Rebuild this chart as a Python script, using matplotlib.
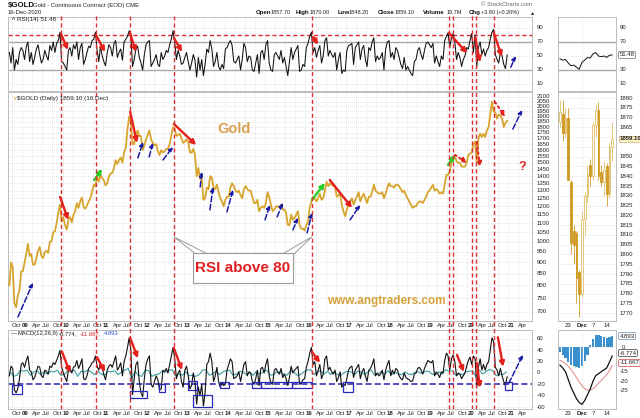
import numpy as np
import matplotlib
matplotlib.use("Agg")
import matplotlib.pyplot as plt
from matplotlib.patches import Rectangle, Polygon
from matplotlib.ticker import NullLocator

plt.rcParams['font.family'] = ['Liberation Sans', 'DejaVu Sans']

# ---------------- data (semi-monthly readings) ----------------
p2008 = [800, 900, 880, 730, 715, 760, 780, 860]          # from Sep 2008
p2009 = [860, 900, 940, 990, 930, 940, 890, 890, 920, 955, 975, 930, 920, 950, 955, 945, 1000, 1005, 1050, 1055, 1100, 1160, 1210, 1110]
p2010 = [1135, 1090, 1065, 1120, 1135, 1105, 1150, 1170, 1220, 1190, 1230, 1255, 1195, 1185, 1205, 1230, 1250, 1290, 1340, 1330, 1400, 1360, 1410, 1385]
p2011 = [1370, 1335, 1350, 1400, 1420, 1425, 1460, 1520, 1490, 1520, 1540, 1500, 1580, 1620, 1780, 1900, 1850, 1650, 1650, 1720, 1770, 1720, 1720, 1600]
p2012 = [1640, 1690, 1730, 1770, 1690, 1660, 1640, 1650, 1590, 1560, 1600, 1580, 1590, 1610, 1610, 1650, 1730, 1800, 1780, 1720, 1730, 1740, 1700, 1660]
p2013 = [1670, 1690, 1670, 1580, 1580, 1610, 1560, 1400, 1460, 1380, 1390, 1240, 1250, 1320, 1310, 1400, 1390, 1320, 1310, 1340, 1290, 1250, 1230, 1200]
p2014 = [1240, 1260, 1260, 1320, 1350, 1330, 1300, 1290, 1300, 1270, 1250, 1310, 1330, 1310, 1300, 1300, 1260, 1220, 1220, 1240, 1170, 1190, 1200, 1190]
p2015 = [1220, 1290, 1260, 1210, 1170, 1180, 1200, 1200, 1190, 1210, 1180, 1180, 1160, 1090, 1090, 1150, 1120, 1130, 1150, 1170, 1090, 1070, 1070, 1060]
p2016 = [1090, 1110, 1190, 1230, 1260, 1250, 1230, 1250, 1280, 1240, 1250, 1300, 1360, 1330, 1350, 1340, 1330, 1330, 1260, 1270, 1280, 1210, 1170, 1140]
p2017 = [1180, 1210, 1230, 1250, 1210, 1240, 1260, 1290, 1230, 1260, 1280, 1250, 1220, 1260, 1260, 1290, 1340, 1300, 1290, 1280, 1280, 1290, 1250, 1280]
p2018 = [1320, 1350, 1330, 1330, 1320, 1340, 1340, 1330, 1310, 1290, 1300, 1270, 1250, 1230, 1210, 1190, 1200, 1200, 1220, 1230, 1230, 1220, 1240, 1260]
p2019 = [1290, 1300, 1320, 1340, 1300, 1310, 1300, 1280, 1290, 1280, 1340, 1410, 1410, 1430, 1510, 1530, 1550, 1510, 1500, 1500, 1470, 1470, 1470, 1500]
p2020 = [1560, 1570, 1580, 1650, 1670, 1500, 1700, 1740, 1710, 1740, 1710, 1770, 1800, 1920, 2050, 1950, 1940, 1880, 1920, 1910, 1880, 1800, 1840, 1859.1]

r2008 = [55, 40, 62, 30, 45, 38, 55, 62]
r2009 = [58, 45, 63, 70, 42, 55, 38, 48, 60, 66, 52, 40, 45, 58, 50, 44, 65, 58, 70, 55, 68, 72, 84, 42]
r2010 = [40, 35, 30, 58, 62, 50, 66, 60, 70, 45, 62, 68, 38, 45, 55, 64, 62, 72, 74, 84, 58, 42, 64, 50]
r2011 = [42, 36, 55, 66, 62, 50, 68, 72, 48, 55, 60, 44, 70, 74, 78, 86, 80, 35, 45, 60, 64, 48, 40, 30]
r2012 = [52, 66, 70, 72, 35, 40, 45, 52, 38, 35, 55, 45, 50, 58, 55, 66, 74, 86, 70, 45, 58, 50, 38, 40]
r2013 = [48, 55, 42, 30, 40, 52, 44, 20, 48, 30, 45, 22, 38, 60, 55, 72, 60, 35, 42, 55, 35, 30, 38, 32]
r2014 = [60, 62, 68, 72, 65, 42, 40, 45, 50, 30, 45, 68, 62, 42, 50, 48, 30, 28, 40, 52, 25, 55, 58, 45]
r2015 = [66, 72, 40, 30, 28, 52, 55, 50, 45, 58, 40, 48, 35, 22, 42, 62, 45, 55, 60, 65, 28, 30, 38, 35]
r2016 = [62, 68, 78, 84, 55, 62, 48, 58, 65, 40, 50, 72, 76, 50, 58, 52, 48, 55, 30, 45, 55, 25, 30, 28]
r2017 = [58, 65, 66, 68, 38, 62, 66, 70, 45, 60, 65, 45, 35, 62, 58, 70, 76, 42, 50, 45, 48, 55, 30, 60]
r2018 = [70, 72, 48, 55, 45, 62, 58, 48, 38, 32, 48, 30, 35, 30, 25, 22, 42, 45, 58, 62, 52, 45, 58, 68]
r2019 = [70, 66, 62, 68, 40, 50, 42, 35, 50, 45, 72, 78, 83, 62, 76, 82, 70, 45, 55, 48, 35, 45, 50, 62]
r2020 = [60, 72, 82, 55, 80, 35, 62, 70, 52, 60, 50, 58, 62, 74, 84, 88, 52, 45, 40, 55, 50, 38, 32, 51.48]

m2008 = [-5, 12, 8, -30, -35, -28, -10, 15]
m2009 = [18, 10, 22, 30, 5, 2, -12, -8, 2, 12, 10, -5, -8, 5, 3, -2, 12, 10, 18, 15, 22, 30, 40, 10]
m2010 = [0, -8, -15, 5, 8, 0, 10, 12, 22, 8, 15, 25, -10, -12, -5, 8, 12, 18, 20, 30, 12, 5, 18, 10]
m2011 = [-3, -12, 5, 12, 15, 10, 20, 30, 5, 10, 18, -5, 20, 30, 45, 62, 40, -38, -10, 15, 20, -15, -35, -42]
m2012 = [-10, 15, 25, 30, -20, -25, -15, -5, -12, -30, -28, 5, 2, 8, 0, 15, 30, 45, 25, -10, 0, 5, -15, -25]
m2013 = [5, 12, -5, -28, -22, 0, -15, -55, -25, -40, -20, -58, -35, 15, 20, 35, 20, -15, -5, 10, -15, -25, -18, -22]
m2014 = [-20, 5, 15, 25, 20, -10, -8, -5, 2, -15, 0, 15, 20, -5, 2, 0, -15, -20, -10, 5, -22, 8, 10, 0]
m2015 = [15, 25, -5, -18, -20, 5, 8, 2, -2, 8, -8, -2, -10, -22, -8, 12, 0, 5, 8, 12, -20, -18, -12, -10]
m2016 = [10, 20, 35, 45, 15, 20, -5, 5, 15, -10, -2, 25, 30, 5, 10, 2, -2, 5, -15, -8, 2, -25, -20, -22]
m2017 = [-10, 5, 10, 12, -8, 5, 10, 15, -10, 2, 8, -5, -15, 5, 8, 15, 25, -5, 0, -5, -2, 5, -12, 5]
m2018 = [15, 22, -5, 5, -2, 8, 5, -5, -10, -12, 0, -8, -10, -12, -15, -14, -2, 0, 8, 10, 5, -2, 8, 15]
m2019 = [22, 20, 18, 22, -5, 2, -2, -8, 2, 0, 22, 35, 30, 5, 25, 32, 20, -5, 0, -2, -10, -5, 0, 12]
m2020 = [22, 28, 15, 30, 25, -25, 10, 25, 5, 15, 5, 15, 20, 40, 62, 55, 10, 5, -5, 8, -5, -15, -22, -6.774]

# MACD histogram (monthly readings)
h2008 = [2, -6, -4, 5]
h2009 = [3, 5, -4, 2, 4, -3, 2, -2, 3, 2, 5, -4]
h2010 = [-3, 4, 2, 5, -6, 3, 2, 5, 2, -3, 3, -2]
h2011 = [-4, 3, 2, 4, -3, 2, 5, 8, -10, 3, -4, -6]
h2012 = [5, 4, -6, -3, -2, 3, 2, 4, 6, -5, -2, -4]
h2013 = [2, -5, -4, -6, -3, 5, 6, -4, -2, 3, -3, 2]
h2014 = [4, 5, -4, -2, 3, 2, -3, 1, -4, 3, -2, 2]
h2015 = [5, -4, -3, 2, 1, -2, -4, 4, 2, -4, -3, 2]
h2016 = [5, 6, -3, 2, 4, -2, 3, -3, 2, -3, -4, 1]
h2017 = [3, 2, -3, 3, 2, -3, 2, 5, -4, -1, 2, -2]
h2018 = [4, -3, 2, -2, -3, 2, -2, -3, 2, 2, -1, 3]
h2019 = [3, -2, -3, 2, -2, 6, 3, 4, -4, -2, -3, 2]
h2020 = [3, 4, -6, 5, -2, 3, 6, 4, -5, -2, -3, 2]

# dates where RSI crossed above 80
rsi80_dates = [2009.96, 2010.83, 2011.67, 2012.75, 2016.16, 2019.54, 2019.64, 2020.11, 2020.21, 2020.65]

# last month daily data (Nov 18 .. Dec 16, 2020)
day_labels = ["23", "Dec", "7", "14"]
day_label_idx = [3, 8, 12, 17]
c_open = [1868, 1872, 1862, 1870, 1837, 1812, 1811, 1791, 1780, 1818, 1830, 1846, 1840, 1866, 1874, 1842, 1837, 1845, 1831, 1855]
c_high = [1879, 1879, 1875, 1875, 1838, 1815, 1812, 1792, 1822, 1832, 1845, 1849, 1868, 1877, 1878, 1846, 1848, 1847, 1857, 1868]
c_low = [1865, 1858, 1860, 1838, 1800, 1795, 1775, 1768, 1778, 1810, 1827, 1835, 1838, 1860, 1838, 1835, 1830, 1825, 1829, 1848]
c_close = [1873, 1862, 1870, 1838, 1806, 1805, 1788, 1780, 1818, 1830, 1841, 1840, 1866, 1874, 1840, 1837, 1843, 1831, 1855, 1859.1]
d_rsi = [46, 44, 45, 40, 36, 37, 34, 31, 41, 44, 48, 47, 53, 55, 50, 49, 50, 48, 51, 51.48]
d_macd = [-11.5, -13, -15, -19, -23, -26, -29, -31, -32, -30, -27, -24, -20, -17, -16, -15, -14, -13, -10, -6.774]
d_signal = [-9, -9.8, -10.8, -12, -13.8, -15.8, -18, -20.2, -22.3, -23.8, -24.5, -24.5, -23.8, -22.5, -21, -19.5, -18, -16.5, -14.5, -11.667]
d_hist = [-2, -3.5, -5, -6.5, -8, -8.5, -9, -9.3, -8.5, -6, -3.5, 1, 3.5, 5.5, 5.5, 5, 4.5, 4, 4.5, 4.893]

header_labels = ["Open", "High", "Low", "Close", "Volume", "Chg"]
header_values = ["1857.70", "1870.00", "1848.20", "1859.10", "19.7M", "+3.80 (+0.20%)"]

# annotations (time, value)
rsi_red_arrows = [(2009.963, 81.4, 2010.136, 58.6), (2010.827, 80, 2011.049, 55.7), (2011.667, 82.9, 2011.815, 55.7),
                  (2012.753, 75.7, 2012.951, 55.7), (2016.19, 77, 2016.31, 66), (2019.54, 83, 2019.99, 54),
                  (2020.19, 76, 2020.31, 41), (2020.65, 83, 2020.85, 49)]
rsi_blue_arrows = [(2021.07, 34, 2021.19, 50)]
px_red_arrows = [(2009.94, 1259, 2010.14, 1119), (2011.67, 1946, 2011.84, 1660), (2012.75, 1829, 2013.30, 1642),
                 (2016.60, 1373, 2017.15, 1190)]
px_red_dotted = [(2019.69, 1561, 2019.99, 1498), (2020.23, 1668, 2020.31, 1468), (2020.68, 2046, 2020.93, 1896)]
px_green_arrows = [(2010.78, 1373, 2010.98, 1453), (2016.16, 1240, 2016.48, 1352), (2019.52, 1483, 2019.69, 1561)]
px_blue_arrows = [(2008.90, 681, 2009.27, 811), (2011.86, 1537, 2011.99, 1668), (2012.14, 1545, 2012.23, 1660),
                  (2012.48, 1521, 2012.73, 1626), (2013.40, 1325, 2013.44, 1431), (2013.64, 1178, 2013.72, 1325),
                  (2014.06, 1166, 2014.21, 1305), (2015.00, 1119, 2015.12, 1208), (2015.30, 1137, 2015.44, 1221),
                  (2015.69, 1063, 2015.81, 1131), (2016.04, 1047, 2016.16, 1160), (2017.10, 1119, 2017.35, 1208),
                  (2021.12, 1782, 2021.35, 1964)]
macd_red_arrows = [(2009.99, 37, 2010.19, 0), (2010.85, 28, 2011.05, 2), (2011.67, 62, 2011.86, 26),
                   (2012.75, 44, 2012.95, 5), (2016.16, 37, 2016.36, 18), (2019.74, 32, 2019.91, 2),
                   (2020.23, 18, 2020.31, -26), (2020.75, 63, 2020.88, 11)]
macd_blue_arrows = [(2021.02, -18, 2021.37, 32)]
macd_boxes = [(2008.75, 2009.0, -37, -21), (2011.67, 2012.09, -44, -32), (2012.38, 2012.53, -33, -19),
              (2013.10, 2013.32, -30, -14), (2013.22, 2013.69, -60, -39), (2013.89, 2014.11, -26, -16),
              (2014.68, 2014.90, -26, -16), (2014.90, 2015.67, -26, -16), (2015.67, 2016.16, -26, -16),
              (2016.93, 2017.17, -33, -16), (2020.93, 2021.10, -30, -16)]


# ---------------- build series ----------------
def stack(parts, per_year):
    t, v = [], []
    for year, vals, start in parts:
        t += [year + (start + i + 0.5) / per_year for i in range(len(vals))]
        v += list(vals)
    return np.array(t), np.array(v, float)

yrs = list(range(2009, 2021))
t_p, price = stack([(2008, p2008, 16)] + list(zip(yrs, [p2009, p2010, p2011, p2012, p2013, p2014, p2015, p2016, p2017, p2018, p2019, p2020], [0] * 12)), 24)
t_r, rsi = stack([(2008, r2008, 16)] + list(zip(yrs, [r2009, r2010, r2011, r2012, r2013, r2014, r2015, r2016, r2017, r2018, r2019, r2020], [0] * 12)), 24)
t_m, macd = stack([(2008, m2008, 16)] + list(zip(yrs, [m2009, m2010, m2011, m2012, m2013, m2014, m2015, m2016, m2017, m2018, m2019, m2020], [0] * 12)), 24)
t_h, hist = stack([(2008, h2008, 8)] + list(zip(yrs, [h2009, h2010, h2011, h2012, h2013, h2014, h2015, h2016, h2017, h2018, h2019, h2020], [0] * 12)), 12)

# ---------------- figure ----------------
W, H = 640, 418
fig = plt.figure(figsize=(W / 100, H / 100), dpi=100)
fig.patch.set_facecolor('white')

def clear_ticks(a):
    for axis in (a.xaxis, a.yaxis):
        axis.set_major_locator(NullLocator())
        axis.set_minor_locator(NullLocator())

def ax_at(x0, y0, x1, y1, frame=True):
    a = fig.add_axes([x0 / W, 1 - y1 / H, (x1 - x0) / W, (y1 - y0) / H])
    for s in a.spines.values():
        s.set_color('#bcbcbc')
        s.set_linewidth(0.7)
        s.set_visible(frame)
    clear_ticks(a)
    return a

def ftext(x, y, s, **kw):
    kw.setdefault('va', 'center')
    kw.setdefault('ha', 'left')
    return fig.text(x / W, 1 - y / H, s, **kw)

def rlabel(a, v, s, dx=3.5, size=4.3, **kw):
    a.annotate(s, xy=(1, v), xycoords=('axes fraction', 'data'), xytext=(dx, 0),
               textcoords='offset points', ha='left', va='center', fontsize=size,
               color='#222222', annotation_clip=False, **kw)

def arrow(a, spec, color, ls='-', lw=1.7, ms=7):
    t0, v0, t1, v1 = spec
    a.annotate('', xy=(t1, v1), xytext=(t0, v0),
               arrowprops=dict(arrowstyle='-|>', color=color, lw=lw, linestyle=ls,
                               mutation_scale=ms, shrinkA=0, shrinkB=0), zorder=6)

XL = (2008.654, 2021.593)
quarters = np.round(np.arange(2008.75, 2021.26, 0.25), 2)
GRID = dict(color='#d6d6d6', lw=0.55, ls=(0, (1, 1.6)), zorder=0)
RED = '#e3201b'
BLUE = '#1c1ca6'
GREEN = '#2ccc2c'

ax_r = ax_at(8, 17, 532, 91)
ax_p = ax_at(8, 92, 532, 321)
ax_p.set_yscale('log')
clear_ticks(ax_p)
ax_m = ax_at(8, 330, 532, 409)
for a in (ax_r, ax_p, ax_m):
    a.set_xlim(XL)
    for q in quarters:
        a.axvline(q, **GRID)

# ---- RSI panel ----
ax_r.set_ylim(0, 105.7)
for v in (10, 50, 90):
    ax_r.axhline(v, **GRID)
for v in (30, 70):
    ax_r.axhline(v, color='#a9a9a9', lw=1.0, zorder=1)
ax_r.axhline(80, color='#dd2a2a', lw=1.0, ls=(0, (3, 2)), zorder=2)
ax_r.plot(t_r, rsi, color='#111111', lw=0.75, zorder=3)
for s in rsi_red_arrows:
    arrow(ax_r, s, RED)
for s in rsi_blue_arrows:
    arrow(ax_r, s, BLUE, ls='--', lw=1.1, ms=6)
for v in (90, 70, 50, 30, 10):
    rlabel(ax_r, v, str(v))
ftext(12, 19, "\u1d27", fontsize=4.5, color='#333333')
ftext(17, 19, "RSI(14) 51.48", fontsize=4.5, color='#222222')

# ---- price panel ----
ax_p.set_ylim(667, 2154)
levels = list(range(700, 2101, 50))
for v in levels:
    ax_p.axhline(v, **GRID)
    rlabel(ax_p, v, str(v))
ax_p.plot(t_p, price, color='#d7a52e', lw=1.3, zorder=3)
for s in px_red_arrows:
    arrow(ax_p, s, RED)
for s in px_red_dotted:
    arrow(ax_p, s, RED, ls=':', lw=1.4)
for s in px_green_arrows:
    arrow(ax_p, s, GREEN)
for s in px_blue_arrows:
    arrow(ax_p, s, BLUE, ls='--', lw=1.1, ms=6)
ax_p.text(2013.815, 1783, "Gold", fontsize=10.5, weight='bold', color='#d9a052', ha='left', va='center', zorder=7)
ax_p.text(2016.531, 740, "www.angtraders.com", fontsize=8.5, weight='bold', color='#d6a23a', ha='left', va='center', zorder=7)
ax_p.text(2021.346, 1468, "?", fontsize=9, weight='bold', color='#dd2222', ha='center', va='center', zorder=7)
# callout "RSI above 80"
for tip, b1, b2 in [((2012.75, 1026), (2013.32, 935.7), (2013.62, 935.7)),
                    ((2016.16, 1026), (2015.69, 935.7), (2015.39, 935.7))]:
    ax_p.add_patch(Polygon([tip, b1, b2], closed=True, fc='white', ec='#9a9a9a', lw=0.7, zorder=7))
ax_p.add_patch(Rectangle((2013.222, 810.7), 2015.691 - 2013.222, 945.3 - 810.7, fc='white', ec='#9a9a9a', lw=0.8, zorder=8))
ax_p.text(2014.457, 875.6, "RSI above 80", fontsize=11, weight='bold', color='#e02020', ha='center', va='center', zorder=9)
ftext(12, 98.5, "\u2228", fontsize=4.5, color='#d4a030')
ftext(17, 98.5, "$GOLD (Daily) 1859.10 (16 Dec)", fontsize=4.5, color='#222222')

# ---- MACD panel ----
ax_m.set_ylim(-63.5, 75.8)
for v in (60, 40, 20, 0, -40, -60):
    ax_m.axhline(v, **GRID)
ax_m.axhline(-20, color='#2323a8', lw=1.1, ls=(0, (4, 2)), zorder=2)
ax_m.plot(t_h, hist, color='#3f9fa6', lw=0.8, zorder=3)
ax_m.plot(t_m, macd, color='#111111', lw=0.8, zorder=4)
for s in macd_red_arrows:
    arrow(ax_m, s, RED)
for s in macd_blue_arrows:
    arrow(ax_m, s, BLUE, ls='--', lw=1.1, ms=6)
for t0, t1, v0, v1 in macd_boxes:
    ax_m.add_patch(Rectangle((t0, v0), t1 - t0, v1 - v0, fill=False, ec='#2a2ab8', lw=0.9, zorder=5))
for v in (60, 40, 20, 0, -20, -40, -60):
    rlabel(ax_m, v, str(v))
ftext(11, 333.5, "\u2014", fontsize=4.3, color='#111111')
ftext(17, 333.5, "MACD(12,26,9)", fontsize=4.2, color='#222222')
ftext(59, 333.5, "-6.774,", fontsize=4.2, color='#222222')
ftext(80, 333.5, "-11.667,", fontsize=4.2, color='#d02020')
ftext(104, 333.5, "4.893", fontsize=4.2, color='#2a4fd0')

# ---- x labels for main panels ----
def xlabels(a):
    for q in quarters:
        yr = int(np.floor(q + 1e-6))
        m = int(round((q - yr) * 4))
        s = f"{yr % 100:02d}" if m == 0 else ["", "Apr", "Jul", "Oct"][m]
        a.annotate(s, xy=(q, 0), xycoords=('data', 'axes fraction'), xytext=(0.0, -1.3),
                   textcoords='offset points', ha='left', va='top', fontsize=4.3,
                   weight='bold' if m == 0 else 'normal', color='#222222', annotation_clip=False)
xlabels(ax_p)
xlabels(ax_m)

# ---- overlay with RSI>80 event lines ----
ax_ov = ax_at(8, 15, 532, 409, frame=False)
ax_ov.patch.set_alpha(0)
ax_ov.set_xlim(XL)
ax_ov.set_ylim(0, 1)
for d in rsi80_dates:
    ax_ov.axvline(d, color='#dd3030', lw=1.0, ls=(0, (3, 2)))

# ---------------- right-hand daily panels ----------------
DXL = (-0.73, 20.4)
days = np.arange(len(c_close))
mr = ax_at(558, 17, 616, 91)
mp = ax_at(558, 92, 616, 321)
mm = ax_at(558, 330, 616, 409)
for a in (mr, mp, mm):
    a.set_xlim(DXL)
    a.axvline(8, **GRID)

mr.set_ylim(0, 105.7)
for v in (30, 70):
    mr.axhline(v, color='#a9a9a9', lw=1.0)
mr.axhline(50, **GRID)
mr.plot(days, d_rsi, color='#111111', lw=0.7)
for v in (90, 70, 30, 10):
    rlabel(mr, v, str(v), dx=2.5)
rlabel(mr, d_rsi[-1], f"{d_rsi[-1]:.2f}", dx=2.5,
       bbox=dict(boxstyle='round,pad=0.15', fc='white', ec='#666666', lw=0.5))

mp.set_ylim(1765.96, 1883.1)
for v in range(1770, 1881, 5):
    mp.axhline(v, **GRID)
    if v not in (1855, 1860):
        rlabel(mp, v, str(v), dx=2.5)
o, h, l, c = map(np.array, (c_open, c_high, c_low, c_close))
up = c >= o
edge = np.where(up, '#e2bd68', '#cf9a24')
face = np.where(up, 'white', '#cf9a24')
mp.vlines(days, l, h, colors=edge, lw=0.6, zorder=2)
body = np.maximum(np.abs(c - o), 0.6)
mp.bar(days, body, bottom=np.minimum(o, c), width=0.62, color=face, edgecolor=edge, lw=0.6, zorder=3)
rlabel(mp, c_close[-1], f"{c_close[-1]:.2f}", dx=2.5, weight='bold',
       bbox=dict(boxstyle='square,pad=0.15', fc='#fbf1c8', ec='#c8b070', lw=0.5))

mm.set_ylim(-34.4, 6.8)
mh = ax_at(558, 330, 616, 409, frame=False)
mh.patch.set_alpha(0)
mh.set_xlim(DXL)
mh.set_ylim(-27.6, 7.6)
mh.bar(days, d_hist, width=0.8, color='#3b8fcd', zorder=1)
mh.axhline(0, **GRID)
mm.set_zorder(mh.get_zorder() + 1)
mm.patch.set_alpha(0)
mm.plot(days, d_signal, color='#e07070', lw=0.6)
mm.plot(days, d_macd, color='#111111', lw=0.9)
for v in (-15, -20, -25):
    rlabel(mm, v, str(v), dx=2.5)
rlabel(mh, 0, "0", dx=4)
rlabel(mh, d_hist[-1], f"{d_hist[-1]:.3f}", dx=2.5,
       bbox=dict(boxstyle='round,pad=0.15', fc='white', ec='#6a8ab0', lw=0.5))
rlabel(mm, -5.2, f"{d_macd[-1]:.3f}", dx=2.5,
       bbox=dict(boxstyle='round,pad=0.15', fc='white', ec='#333333', lw=0.5))
rlabel(mm, -10.4, f"{d_signal[-1]:.3f}", dx=2.5,
       bbox=dict(boxstyle='round,pad=0.15', fc='white', ec='#d04040', lw=0.5))

for a in (mp, mm):
    for i, s in zip(day_label_idx, day_labels):
        a.annotate(s, xy=(i, 0), xycoords=('data', 'axes fraction'), xytext=(0, -1.3),
                   textcoords='offset points', ha='center', va='top', fontsize=4.3,
                   weight='bold' if s == 'Dec' else 'normal', color='#222222', annotation_clip=False)

# ---------------- header ----------------
ftext(8, 5.5, "$GOLD", fontsize=5.6, weight='bold', color='#111111')
ftext(33, 5.5, "Gold - Continuous Contract (EOD) CME", fontsize=4.3, color='#222222')
ftext(8, 12.5, "16-Dec-2020", fontsize=4.2, color='#222222')
ftext(532, 5, "\u00a9 StockCharts.com", fontsize=4.2, color='#666666', ha='right')
label_x = [256, 296, 338, 378, 423, 469]
value_x = [271, 310, 349, 395, 447, 481]
for lx, vx, lab, val in zip(label_x, value_x, header_labels, header_values):
    ftext(lx, 12.5, lab, fontsize=4.4, weight='bold', color='#111111')
    ftext(vx, 12.5, val, fontsize=4.0, color='#222222')
ftext(531, 12.5, "\u25b4", fontsize=4.5, color='#222222')

fig.savefig("out.png", dpi=100, facecolor='white')
